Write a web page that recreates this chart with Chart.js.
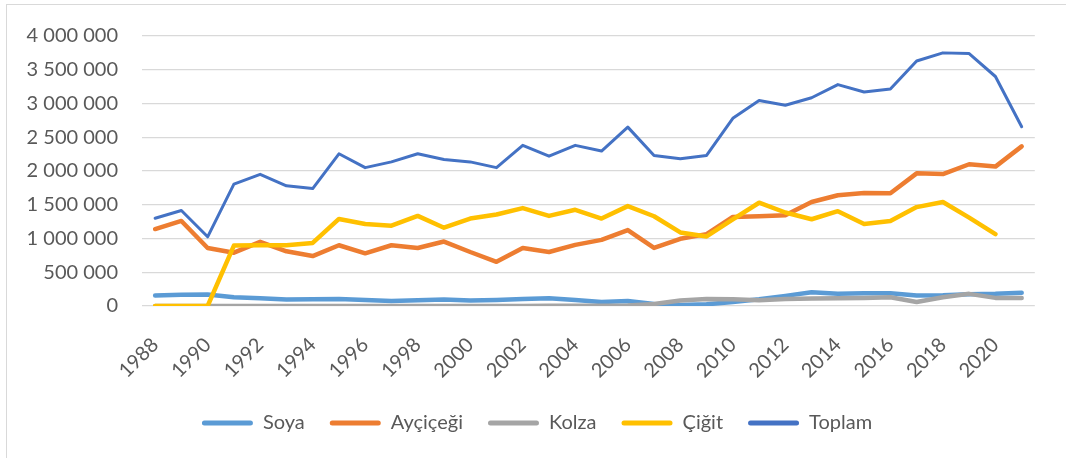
<!DOCTYPE html>
<html>
<head>
<meta charset="utf-8">
<script src="https://cdn.jsdelivr.net/npm/chart.js@4/dist/chart.umd.min.js"></script>
<style>
  html, body { margin: 0; padding: 0; background: #fff; }
  #wrap { position: relative; width: 1066px; height: 458px; overflow: hidden; }
  #frame { position: absolute; left: 6px; top: 4px; width: 1100px; height: 500px; border: 1px solid #d9d9d9; box-sizing: border-box; pointer-events: none; }
  #c { position: absolute; left: 0; top: 0; }
</style>
</head>
<body>
<div id="wrap">
  <div id="frame"></div>
  <canvas id="c" width="1066" height="458"></canvas>
</div>
<script>
const years = ['1988','1989','1990','1991','1992','1993','1994','1995','1996','1997','1998','1999','2000','2001','2002','2003','2004','2005','2006','2007','2008','2009','2010','2011','2012','2013','2014','2015','2016','2017','2018','2019','2020','2021'];

const soya = [155000,165000,170000,130000,115000,95000,100000,105000,90000,75000,85000,95000,80000,90000,105000,115000,90000,60000,75000,30000,15000,25000,60000,100000,150000,205000,180000,190000,190000,155000,160000,175000,180000,195000];

const aycicegi = [1140000,1260000,860000,790000,950000,810000,740000,900000,780000,900000,860000,955000,800000,655000,860000,800000,905000,980000,1125000,860000,995000,1065000,1320000,1330000,1345000,1540000,1640000,1675000,1670000,1965000,1955000,2100000,2065000,2365000];

const kolza = [0,0,0,0,0,0,0,0,0,0,0,0,0,0,0,2000,3000,5000,8000,30000,80000,105000,100000,85000,105000,110000,115000,120000,130000,60000,130000,180000,120000,120000];

const cigit = [0,0,0,895000,900000,900000,935000,1290000,1215000,1190000,1335000,1160000,1295000,1355000,1450000,1335000,1425000,1295000,1480000,1330000,1090000,1030000,1285000,1530000,1385000,1285000,1405000,1215000,1260000,1465000,1540000,1310000,1065000,null];

const toplam = [1300000,1415000,1025000,1805000,1950000,1780000,1740000,2255000,2050000,2135000,2255000,2170000,2135000,2050000,2380000,2220000,2380000,2295000,2650000,2230000,2180000,2230000,2780000,3045000,2975000,3085000,3280000,3170000,3215000,3630000,3750000,3740000,3400000,2655000];

const seriesNames = ['Soya','Ayçiçeği','Kolza','Çiğit','Toplam'];
const yMin = 0, yMax = 4000000, yStep = 500000;

const FONT = 'Lato, "Open Sans", sans-serif';
const TXT = '#595959';

function fmt(v) {
  return String(v).replace(/\B(?=(\d{3})+(?!\d))/g, ' ');
}

function ds(label, data, color, width, order) {
  return {
    label, data,
    borderColor: color, backgroundColor: color,
    borderWidth: width, pointRadius: 0, pointHoverRadius: 0,
    tension: 0, borderCapStyle: 'round', borderJoinStyle: 'round',
    spanGaps: false, order
  };
}

const shiftLegend = {
  id: 'shiftLegend',
  afterLayout(chart) {
    const lg = chart.legend;
    if (lg) { lg.left += 16; lg.right += 16; }
  }
};

function build() {
  new Chart(document.getElementById('c'), {
    type: 'line',
    plugins: [shiftLegend],
    data: {
      labels: years,
      datasets: [
        ds(seriesNames[0], soya, '#5B9BD5', 4.5, 5),
        ds(seriesNames[1], aycicegi, '#ED7D31', 4.5, 4),
        ds(seriesNames[2], kolza, '#A5A5A5', 4.5, 3),
        ds(seriesNames[3], cigit, '#FFC000', 4.5, 2),
        ds(seriesNames[4], toplam, '#4472C4', 3, 1)
      ]
    },
    options: {
      responsive: false,
      animation: false,
      layout: { padding: { top: 33, right: 24, left: 0, bottom: 15 } },
      plugins: {
        tooltip: { enabled: false },
        title: { display: false },
        legend: {
          position: 'bottom',
          labels: {
            boxWidth: 51,
            boxHeight: 5,
            useBorderRadius: true,
            borderRadius: 2.5,
            padding: 25,
            color: TXT,
            font: { family: FONT, size: 20 },
            sort: (a, b) => a.datasetIndex - b.datasetIndex,
            generateLabels: (chart) => Chart.defaults.plugins.legend.labels.generateLabels(chart).map(l => {
              const d = chart.data.datasets[l.datasetIndex];
              return Object.assign(l, { lineWidth: 0, fillStyle: d.borderColor, strokeStyle: d.borderColor });
            })
          }
        }
      },
      scales: {
        x: {
          offset: true,
          grid: { display: false, drawTicks: false },
          border: { display: false },
          ticks: {
            autoSkip: false,
            minRotation: 45,
            maxRotation: 45,
            padding: 27,
            color: TXT,
            font: { family: FONT, size: 20 },
            callback: function(v, i) { return i % 2 === 0 ? years[i] : ''; }
          },
          afterFit: (s) => { s.height = 82; }
        },
        y: {
          min: yMin, max: yMax,
          grid: { color: '#d9d9d9', lineWidth: 1.3, drawTicks: false },
          border: { display: false },
          ticks: {
            stepSize: yStep,
            padding: 24,
            color: TXT,
            font: { family: FONT, size: 20 },
            callback: (v) => fmt(v)
          },
          afterFit: (s) => { s.width = 142; }
        }
      }
    }
  });
}

if (document.fonts && document.fonts.load) {
  document.fonts.load('20px Lato').then(build, build);
} else {
  build();
}
</script>
</body>
</html>
